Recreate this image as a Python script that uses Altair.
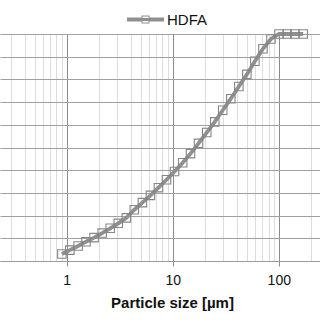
import altair as alt
import pandas as pd

# particle size (µm) and cumulative volume (%)
sizes = [0.90, 1.07, 1.28, 1.52, 1.81, 2.16, 2.57, 3.06, 3.65, 4.34, 5.17, 6.16,
         7.33, 8.73, 10.4, 12.4, 14.7, 17.5, 20.9, 24.9, 29.6, 35.3, 42.0, 50.0,
         59.5, 70.9, 84.4, 100.5, 120.0, 142.0, 170.0]
cumulative = [3.1, 4.8, 6.6, 8.5, 10.3, 12.3, 14.4, 16.6, 19.0, 22.6, 25.7, 28.9,
              32.3, 35.8, 39.4, 43.3, 47.3, 51.8, 56.6, 61.3, 66.4, 71.5, 76.9, 82.2,
              88.0, 93.5, 97.8, 100.0, 100.0, 100.0, 100.0]
series_name = ["HDFA"] * len(sizes)

major_ticks = [1, 10, 100]
minor_ticks = [0.3, 0.4, 0.5, 0.6, 0.7, 0.8, 0.9, 2, 3, 4, 5, 6, 7, 8, 9,
               20, 30, 40, 50, 60, 70, 80, 90, 200]
y_ticks = [0, 10, 20, 30, 40, 50, 60, 70, 80, 90, 100]

df = pd.DataFrame({"size": sizes, "cum": cumulative, "series": series_name})

FONT = "Liberation Sans"
major_test = "datum.value == 1 || datum.value == 10 || datum.value == 100"

xscale = alt.Scale(type="log", domain=[0.2347, 244.8], nice=False)
yscale = alt.Scale(domain=[0, 100], nice=False)

xaxis = alt.Axis(
    values=sorted(major_ticks + minor_ticks),
    labelExpr=f"({major_test}) ? format(datum.value, 'd') : ''",
    labelOverlap=False,
    labelFont=FONT, labelFontSize=14, labelColor="#111111",
    labelPadding=7, tickSize=5,
    tickColor={"condition": {"test": major_test, "value": "#8c8c8c"}, "value": "transparent"},
    grid=True,
    gridColor={"condition": {"test": major_test, "value": "#8c8c8c"}, "value": "#dcdcdc"},
    gridWidth=1,
    domainColor="#9a9a9a",
    title="Particle size [µm]", titleFont=FONT, titleFontSize=15, titleFontWeight="bold",
    titleColor="#111111", titlePadding=8, titleX=172,
)
yaxis = alt.Axis(values=y_ticks, tickCount=11, labels=False, ticks=False, domain=False,
                 grid=True, gridColor="#a0a0a0", gridWidth=1, title=None)

legend_path = ("M-1,-0.108H-0.216V0.108H-1Z"
               "M0.216,-0.108H1V0.108H0.216Z"
               "M-0.216,-0.216H0.216V0.216H-0.216Z"
               "M-0.162,-0.162V0.162H0.162V-0.162Z"
               "M-0.162,-0.08H0.162V0.08H-0.162Z")

line = alt.Chart(df).mark_line(strokeWidth=3.8).encode(
    x=alt.X("size:Q", scale=xscale, axis=xaxis),
    y=alt.Y("cum:Q", scale=yscale, axis=yaxis),
    color=alt.Color("series:N", scale=alt.Scale(range=["#8f8f8f"]),
                    legend=alt.Legend(title=None, orient="none", legendX=127, legendY=-33,
                                      symbolType=legend_path, symbolSize=1369,
                                      symbolFillColor="#8f8f8f", symbolStrokeWidth=0,
                                      labelFont=FONT, labelFontSize=15, labelColor="#111111",
                                      labelOffset=3)),
)
points = alt.Chart(df).mark_point(shape="square", size=72, filled=False,
                                  color="#858585", strokeWidth=1.1, opacity=1).encode(
    x=alt.X("size:Q", scale=xscale, axis=xaxis),
    y=alt.Y("cum:Q", scale=yscale, axis=yaxis),
)

chart = alt.layer(line, points).properties(
    width=320, height=227,
    autosize=alt.AutoSizeParams(type="none"),
    padding={"left": 0, "top": 34, "right": 0, "bottom": 59},
    background="white",
).configure_view(stroke=None)

chart.save("out.html", embed_options={"renderer": "svg", "actions": False})
